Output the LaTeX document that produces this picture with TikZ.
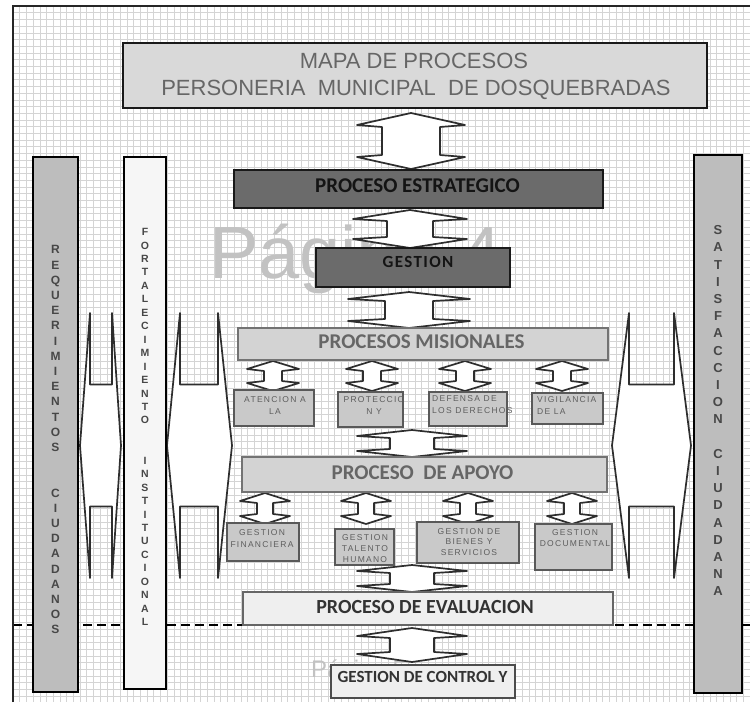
\documentclass[tikz,border=0pt]{standalone}
\usepackage{fontspec}
\setmainfont{Liberation Sans}
\newfontfamily\calfont{Carlito}
\newfontfamily\spfont{Liberation Sans}[LetterSpace=15]
\newfontfamily\gsfont{Carlito}[LetterSpace=8]
\definecolor{darkbox}{HTML}{6B6B6B}
\definecolor{titlefill}{HTML}{D9D9D9}
\definecolor{midfill}{HTML}{D3D3D3}
\definecolor{smallfill}{HTML}{C9C9C9}
\definecolor{lightfill}{HTML}{EFEFEF}
\definecolor{colfill}{HTML}{BDBDBD}
\definecolor{colltfill}{HTML}{F6F6F6}
\definecolor{txtgray}{HTML}{666666}
\definecolor{smtxt}{HTML}{5E5E5E}
\definecolor{txtdark}{HTML}{333333}
\definecolor{vtxtc}{HTML}{474747}
\definecolor{gridc}{HTML}{D4D4D4}
\definecolor{arrc}{HTML}{2E2E2E}
\tikzset{
  gridline/.style={gridc, line width=0.5pt},
  blockarr/.style={draw=arrc, fill=white, line width=1.7pt, line join=round},
  bx/.style={draw, inner sep=0pt, outer sep=0pt, line width=1.8pt},
  darkbx/.style={bx, fill=darkbox, draw=black!90},
  titlebx/.style={bx, fill=titlefill, draw=black!90},
  midbx/.style={bx, fill=midfill, draw=black!55},
  smallbx/.style={bx, fill=smallfill, draw=black!65, line width=2pt},
  lightbx/.style={bx, fill=lightfill, draw=black!60},
  colbx/.style={bx, fill=colfill, draw=black, line width=2.2pt},
  colltbx/.style={bx, fill=colltfill, draw=black, line width=2.2pt},
  headtxt/.style={inner sep=0pt, anchor=base, font=\calfont\bfseries\fontsize{21}{24}\selectfont},
  smalltxt/.style={inner sep=0pt, text=smtxt, font=\spfont\fontsize{8.5}{12}\selectfont},
  vtxt/.style={inner sep=0pt, anchor=north, align=center, text=vtxtc},
  dashline/.style={black, line width=1.6pt, dash pattern=on 9pt off 5pt},
  wmark/.style={inner sep=0pt, anchor=base west, text=black!24}
}
\newcommand{\udarr}[6]{% cx, top, bottom, head half width, shaft half width, head height
  \draw[blockarr] (#1,#2) -- (#1+#4,#2+#6) -- (#1+#5,#2+#6+2) -- (#1+#5,#3-#6-2) -- (#1+#4,#3-#6) -- (#1,#3)
    -- (#1-#4,#3-#6) -- (#1-#5,#3-#6-2) -- (#1-#5,#2+#6+2) -- (#1-#4,#2+#6) -- cycle;}
\newcommand{\lrarr}[7]{% xleft, xright, cy, half height, barb x left, barb x right, shaft half height
  \draw[blockarr] (#1,#3) -- (#5,#3-#4) -- (#5,#3-#7) -- (#6,#3-#7) -- (#6,#3-#4) -- (#2,#3)
    -- (#6,#3+#4) -- (#6,#3+#7) -- (#5,#3+#7) -- (#5,#3+#4) -- cycle;}
\begin{document}
\begin{tikzpicture}[x=1pt,y=-1pt]
\useasboundingbox (0,0) rectangle (750,702);
\fill[white] (0,0) rectangle (750,702);
% grid
\foreach \i in {0,...,110} \draw[gridline] ({13+\i*6.7},6) -- ({13+\i*6.7},702);
\foreach \j in {0,...,104} \draw[gridline] (13,{6+\j*6.7}) -- (750,{6+\j*6.7});
% watermarks
\node[wmark, font=\fontsize{74}{80}\selectfont] (wm1) at (209,278) {Página 4};
\node[wmark, font=\fontsize{24}{28}\selectfont] (wm2) at (311,677) {Página 5};
% dashed line
\coordinate (dl) at (13,625);
\coordinate (dr) at (750,625);
\draw[dashline] (dl) -- (dr);
% frame
\draw[line width=2.6pt, black!85] (13,702) -- (13,6) -- (750,6);
% side arrows
\lrarr{80}{121}{445.5}{132.5}{90}{112}{61}
\lrarr{167}{232}{445.5}{132.5}{180}{218}{61}
\lrarr{612}{691}{445.5}{132.5}{629}{674}{61}
% central arrows
\udarr{411}{113}{169}{54}{29}{12}
\udarr{410}{210}{248}{57}{23}{9}
\udarr{409}{292}{328}{61}{24}{7}
\foreach \cx in {273,372,465,562} {\udarr{\cx}{361}{391}{26}{9}{8}}
\udarr{412}{430}{457}{55}{22}{6}
\foreach \cx in {265,366,468,572} {\udarr{\cx}{493}{524}{25}{8}{8}}
\udarr{412}{565}{592}{55}{22}{6}
\udarr{412}{628}{662}{55}{22}{8}
% boxes
\node[titlebx, minimum width=584pt, minimum height=65pt] (title) at (415,75.5) {};
\node[darkbx, minimum width=369pt, minimum height=38pt] (estr) at (418.5,189) {};
\node[darkbx, minimum width=194pt, minimum height=39pt] (gest) at (413,267.5) {};
\node[midbx, minimum width=370pt, minimum height=32pt] (mis) at (423,344) {};
\node[smallbx, minimum width=80pt, minimum height=36pt] (m1) at (274,408) {};
\node[smallbx, minimum width=65pt, minimum height=35pt] (m2) at (370.5,409.5) {};
\node[smallbx, minimum width=78pt, minimum height=34pt] (m3) at (468,409) {};
\node[smallbx, minimum width=71pt, minimum height=31pt] (m4) at (567.5,408.5) {};
\node[midbx, minimum width=365pt, minimum height=35pt] (apoyo) at (424.5,474.5) {};
\node[smallbx, minimum width=72pt, minimum height=38pt] (a1) at (263,542) {};
\node[smallbx, minimum width=59pt, minimum height=36pt] (a2) at (364.5,547) {};
\node[smallbx, minimum width=102pt, minimum height=41pt] (a3) at (468,542.5) {};
\node[smallbx, minimum width=77pt, minimum height=46pt] (a4) at (573.5,547) {};
\node[lightbx, minimum width=370pt, minimum height=33pt] (eval) at (428,608.5) {};
\node[lightbx, draw=black!70, minimum width=184pt, minimum height=33pt] (ctrl) at (423,681.5) {};
\node[colbx, minimum width=45pt, minimum height=535pt] (col1) at (55.5,424.5) {};
\node[colltbx, minimum width=42pt, minimum height=532pt] (col2) at (145,423) {};
\node[colbx, minimum width=48pt, minimum height=538pt] (col3) at (718,424) {};
% texts
\node[inner sep=0pt, anchor=base, text=txtgray, font=\fontsize{22}{26}\selectfont] (t1) at (414,68) {MAPA DE PROCESOS};
\node[inner sep=0pt, anchor=base, text=txtgray, font=\fontsize{22}{26}\selectfont] (t2) at (416,95) {PERSONERIA\ \ MUNICIPAL\ \ DE DOSQUEBRADAS};
\node[headtxt, text=black!92] (estrt) at (417.5,192) {PROCESO ESTRATEGICO};
\node[inner sep=0pt, anchor=base, text=black!92, font=\gsfont\bfseries\fontsize{17}{20}\selectfont] (gestt) at (418,267) {GESTION};
\node[headtxt, text=txtgray] (mist) at (421.5,348) {PROCESOS MISIONALES};
\node[headtxt, text=txtgray] (apoyot) at (422.5,479) {PROCESO\ \ DE APOYO};
\node[headtxt, text=txtdark, font=\calfont\bfseries\fontsize{20}{24}\selectfont] (evalt) at (425,613) {PROCESO DE EVALUACION};
\node[headtxt, text=txtdark, font=\calfont\bfseries\fontsize{17}{20}\selectfont] (ctrlt) at (422.5,682) {GESTION DE CONTROL Y};
% small box texts
\node[smalltxt, anchor=north, align=center] (m1t) at (275,396) {ATENCION A\\LA};
\node[smalltxt, anchor=north, align=center] (m2t) at (374,396) {PROTECCIO\\N Y};
\node[smalltxt, anchor=north west, align=left] (m3t) at (432,395) {DEFENSA DE\\LOS DERECHOS};
\node[smalltxt, anchor=north west, align=left] (m4t) at (537,396) {VIGILANCIA\\DE LA};
\node[smalltxt, anchor=north, align=center] (a1t) at (262,529) {GESTION\\FINANCIERA};
\node[smalltxt, anchor=north, align=center, font=\spfont\fontsize{8.5}{11}\selectfont] (a2t) at (365,534) {GESTION\\TALENTO\\HUMANO};
\node[smalltxt, anchor=north, align=center, font=\spfont\fontsize{8.5}{10.5}\selectfont] (a3t) at (469,528) {GESTION DE\\BIENES Y\\SERVICIOS};
\node[smalltxt, anchor=north, align=center, font=\spfont\fontsize{8.5}{11}\selectfont] (a4t) at (575,529) {GESTION\\DOCUMENTAL};
% vertical texts
\node[vtxt, font=\bfseries\fontsize{12}{15.2}\selectfont] (col1t) at (55.5,245.5)
  {R\\E\\Q\\U\\E\\R\\I\\M\\I\\E\\N\\T\\O\\S\\~\\~\\C\\I\\U\\D\\A\\D\\A\\N\\O\\S};
\node[vtxt, font=\bfseries\fontsize{10.5}{13.45}\selectfont] (col2t) at (145,228.2)
  {F\\O\\R\\T\\A\\L\\E\\C\\I\\M\\I\\E\\N\\T\\O\\~\\~\\I\\N\\S\\T\\I\\T\\U\\C\\I\\O\\N\\A\\L};
\node[vtxt, font=\bfseries\fontsize{13}{17.2}\selectfont] (col3t) at (718,225.5)
  {S\\A\\T\\I\\S\\F\\A\\C\\C\\I\\O\\N\\~\\C\\I\\U\\D\\A\\D\\A\\N\\A};
\end{tikzpicture}
\end{document}
